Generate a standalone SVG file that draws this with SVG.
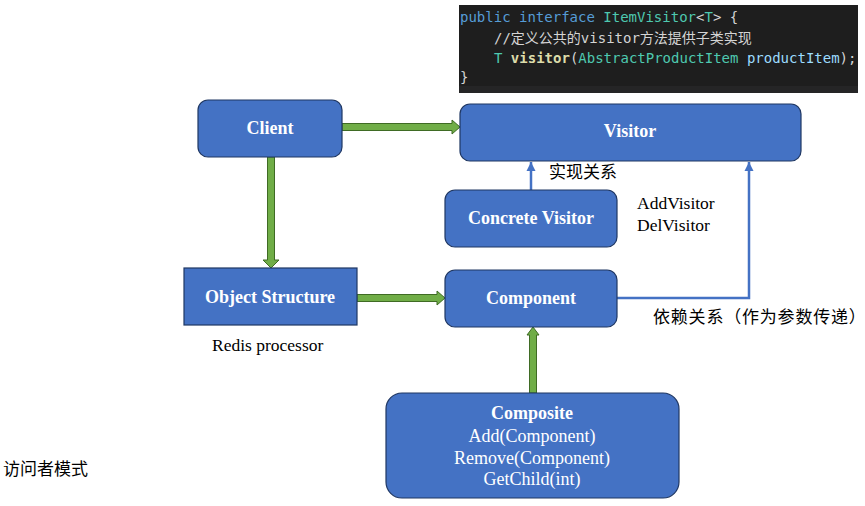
<svg xmlns="http://www.w3.org/2000/svg" width="865" height="506" viewBox="0 0 865 506">
<defs>
<style>
.node{fill:#4472c4;stroke:#1f3763;stroke-width:1.2}
.nt{font-family:"Liberation Serif","Times New Roman",serif;font-weight:bold;font-size:18px;fill:#ffffff;text-anchor:middle}
.ntr{font-family:"Liberation Serif","Times New Roman",serif;font-size:18px;fill:#ffffff;text-anchor:middle}
.lbl{font-family:"Liberation Serif","Times New Roman",serif;font-size:17.5px;fill:#000000}
.cjk{font-family:"Noto Sans CJK SC","Noto Sans",sans-serif;font-size:17px;fill:#000000}
.code{font-family:"DejaVu Sans Mono","Liberation Mono","Noto Sans CJK SC",monospace;font-size:14px;fill:#d4d4d4}
.garrow{fill:#70ad47;stroke:#3f6b24;stroke-width:1}
.bline{fill:none;stroke:#4472c4;stroke-width:2.5}
</style>
<marker id="bhead" markerUnits="userSpaceOnUse" markerWidth="10" markerHeight="10" viewBox="0 0 10 10" refX="9" refY="5" orient="auto">
<path d="M0,0.5 L9,5 L0,9.5 Z" fill="#4472c4"/>
</marker>
</defs>
<rect width="865" height="506" fill="#ffffff"/>

<g id="code">
<rect x="459" y="5" width="399" height="88" fill="#1e1e1e"/>
<rect x="459" y="86" width="399" height="7" fill="#252526"/>
<text class="code" x="460" y="22"><tspan fill="#569cd6">public interface </tspan><tspan fill="#4ec9b0">ItemVisitor</tspan><tspan fill="#d4d4d4">&lt;</tspan><tspan fill="#4ec9b0">T</tspan><tspan fill="#d4d4d4">&gt; {</tspan></text>
<text class="code" x="494" y="43" fill="#6a9955">//定义公共的visitor方法提供子类实现</text>
<text class="code" x="494" y="63"><tspan fill="#4ec9b0">T </tspan><tspan fill="#dcdcaa" font-weight="bold">visitor</tspan><tspan fill="#d4d4d4">(</tspan><tspan fill="#4ec9b0">AbstractProductItem </tspan><tspan fill="#9cdcfe">productItem</tspan><tspan fill="#d4d4d4">);</tspan></text>
<text class="code" x="460" y="82">}</text>
</g>

<g id="connectors">
<polygon class="garrow" points="342,123.5 452,123.5 452,120 460,127 452,134 452,130.5 342,130.5"/>
<polygon class="garrow" points="357,294.5 437,294.5 437,291 445,298 437,305 437,301.5 357,301.5"/>
<polygon class="garrow" points="267.5,157 267.5,260 263,260 271,268 279,260 274.5,260 274.5,157"/>
<polygon class="garrow" points="529.5,393 529.5,335 527,335 533,327 539,335 536.5,335 536.5,393"/>
<path class="bline" d="M531,190 V162" marker-end="url(#bhead)"/>
<path class="bline" d="M617,298 H749 V162" marker-end="url(#bhead)"/>
</g>

<g id="client">
<rect class="node" x="198" y="100" width="144" height="57" rx="10"/>
<text class="nt" x="270" y="134">Client</text>
</g>

<g id="visitor">
<rect class="node" x="460" y="104" width="341" height="57" rx="10"/>
<text class="nt" x="630" y="137">Visitor</text>
</g>

<g id="concrete-visitor">
<rect class="node" x="445" y="190" width="172" height="57" rx="10"/>
<text class="nt" x="531" y="224">Concrete Visitor</text>
</g>

<g id="object-structure">
<rect class="node" x="184" y="268" width="173" height="57"/>
<text class="nt" x="270" y="303">Object Structure</text>
</g>

<g id="component">
<rect class="node" x="445" y="270" width="172" height="57" rx="10"/>
<text class="nt" x="531" y="304">Component</text>
</g>

<g id="composite">
<rect class="node" x="386" y="393" width="293" height="105" rx="16"/>
<text class="nt" x="532" y="419">Composite</text>
<text class="ntr" x="532" y="442">Add(Component)</text>
<text class="ntr" x="532" y="464">Remove(Component)</text>
<text class="ntr" x="532" y="485">GetChild(int)</text>
</g>

<g id="labels">
<text class="cjk" x="549" y="178">实现关系</text>
<text class="lbl" x="637" y="209">AddVisitor</text>
<text class="lbl" x="637" y="231">DelVisitor</text>
<text class="cjk" x="653" y="323" letter-spacing="0.8">依赖关系（作为参数传递）</text>
<text class="lbl" x="212" y="351" font-size="18.5">Redis processor</text>
<text class="cjk" x="3" y="475">访问者模式</text>
</g>
</svg>
